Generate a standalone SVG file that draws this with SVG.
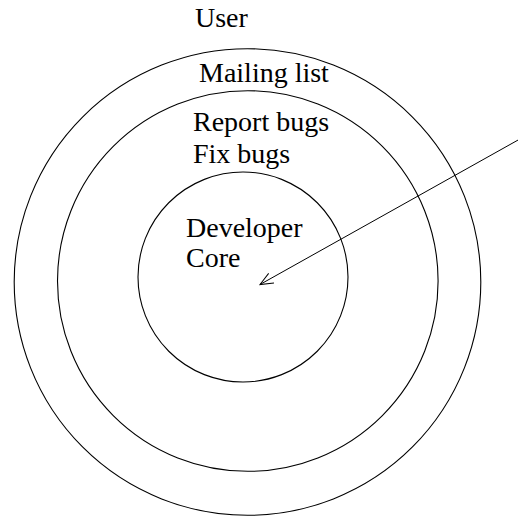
<svg xmlns="http://www.w3.org/2000/svg" width="518" height="517" viewBox="0 0 518 517">
<style>
.ring{fill:none;stroke:#000;stroke-width:1.1}
.lbl{font-family:"Liberation Serif","Times New Roman",serif;font-size:28px;fill:#000}
.conn{fill:none;stroke:#000;stroke-width:1}
</style>
<defs>
<marker id="open" markerWidth="14" markerHeight="12" refX="13" refY="6" orient="auto" markerUnits="userSpaceOnUse">
<path d="M0,0.5 L13,6 L0,11.5" fill="none" stroke="#000" stroke-width="1"/>
</marker>
</defs>
<rect width="518" height="517" fill="#fff"/>
<g id="user">
<circle class="ring" cx="247.5" cy="282" r="233.3"/>
<text class="lbl" x="195" y="27">User</text>
</g>
<g id="mailing-list">
<circle class="ring" cx="247.8" cy="281" r="190.3"/>
<text class="lbl" x="199" y="82">Mailing list</text>
</g>
<g id="bugs">
<text class="lbl" x="193" y="131">Report bugs</text>
<text class="lbl" x="193" y="163">Fix bugs</text>
</g>
<g id="developer-core">
<circle class="ring" cx="243" cy="277" r="105"/>
<text class="lbl" x="186" y="237">Developer</text>
<text class="lbl" x="186" y="267">Core</text>
</g>
<g id="connectors">
<line class="conn" x1="519" y1="139.5" x2="260" y2="284.5" marker-end="url(#open)"/>
</g>
</svg>
